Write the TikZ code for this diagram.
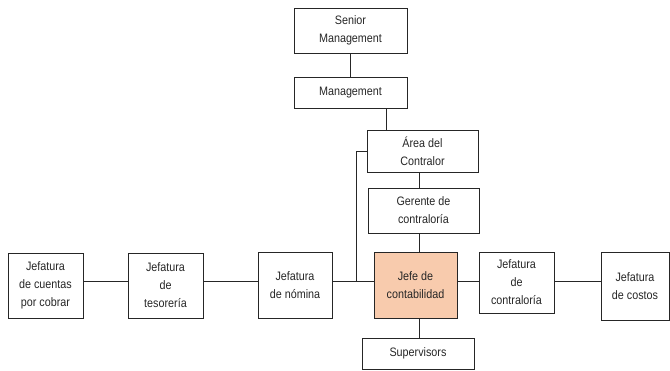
\documentclass[tikz,border=0pt]{standalone}
\usepackage{fontspec}
\setmainfont{Liberation Sans}[FakeStretch=0.88]
\definecolor{peach}{HTML}{F8CBAD}
\definecolor{edge}{HTML}{262626}

\begin{document}
\begin{tikzpicture}[x=1bp, y=-1bp, align=center, font=\fontsize{12.3}{18}\selectfont]
    \tikzstyle{every node} = [rectangle, draw=edge, line width=0.9bp, inner sep=0pt, text=black!85]
    \useasboundingbox (0,0) rectangle (670,370);

    \node (a) at (350.5, 30.5) [minimum width=113bp, minimum height=45bp] {Senior \\ Management};
    \node (b) at (350.5, 92.5) [minimum width=113bp, minimum height=31bp] {Management};
    \node (c) at (422.5, 151) [minimum width=111bp, minimum height=42bp] {Área del \\ Contralor};
    \node (d) at (423.5, 210.5) [minimum width=111bp, minimum height=45bp] {Gerente de \\ contraloría};
    \node (e) at (415.5, 285) [minimum width=83bp, minimum height=66bp, fill=peach] {Jefe de \\ contabilidad};
    \node (f) at (418, 353.5) [minimum width=112bp, minimum height=31bp] {Supervisors};

    \node (g) at (45.5, 285.5) [minimum width=75bp, minimum height=65bp] {Jefatura \\ de cuentas \\ por cobrar};
    \node (h) at (165.5, 285.5) [minimum width=75bp, minimum height=65bp] {Jefatura \\ de \\ tesorería};
    \node (i) at (295, 285) [minimum width=74bp, minimum height=66bp] {Jefatura \\ de nómina};
    \node (j) at (516.5, 282.5) [minimum width=75bp, minimum height=61bp] {Jefatura \\ de \\ contraloría};
    \node (k) at (635, 286) [minimum width=68bp, minimum height=68bp] {Jefatura \\ de costos};

    \coordinate (t) at (356, 281);

    \begin{scope}[draw=edge, line width=0.9bp]
    \draw (a) -- (a |- b.north);
    \draw ([xshift=35.5bp]b.south) -- ([xshift=35.5bp]b.south |- c.north);
    \draw (c.west) -| (t);

    \draw ([xshift=-3.5bp]c.south) -- ([xshift=-3.5bp]c.south |- d.north);
    \draw ([xshift=-4.5bp]d.south) -- ([xshift=-4.5bp]d.south |- e.north);
    \draw ([xshift=1bp]f.north) -- ([xshift=1bp]f.north |- e.south);

    \draw (g.east |- t) -- (h.west |- t);
    \draw (h.east |- t) -- (i.west |- t);
    \draw (i.east |- t) -- (e.west |- t);
    \draw (e.east |- t) -- (j.west |- t);
    \draw (j.east |- t) -- (k.west |- t);
    \end{scope}
\end{tikzpicture}
\end{document}
